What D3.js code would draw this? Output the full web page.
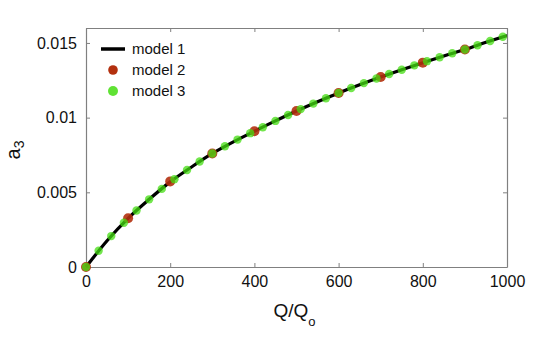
<!DOCTYPE html>
<html><head><meta charset="utf-8">
<script src="https://cdn.jsdelivr.net/npm/d3@7"></script>
<style>body{margin:0;background:#fff}svg{display:block}text{font-family:"Liberation Sans",Arial,Helvetica,sans-serif}</style>
</head><body><svg id="c" width="550" height="339"></svg>
<script>
// model 1 (line)
const m1Q = [0,50,100,150,200,250,300,350,400,450,500,550,600,650,700,750,800,850,900,950,1000];
const m1A = [0,0.00176,0.00326,0.00453,0.00570,0.00668,0.00760,0.00838,0.00909,0.00978,0.01044,0.01106,0.01165,0.01220,0.01272,0.01321,0.01368,0.01413,0.01456,0.01504,0.01550];
// model 2 (red markers)
const m2Q = [0,100,200,300,400,500,600,700,800,900];
const m2A = [0,0.00326,0.00573,0.00760,0.00909,0.01044,0.01165,0.01272,0.01368,0.01456];
// model 3 (green markers)
const m3Q = [0,30,60,90,120,150,180,210,240,270,300,330,360,390,420,450,480,510,540,570,600,630,660,690,720,750,780,810,840,870,900,930,960,990];
const m3A = [0,0.00109,0.00207,0.00296,0.00378,0.00453,0.00523,0.00588,0.00649,0.00706,0.00760,0.00808,0.00853,0.00896,0.00936,0.00978,0.01018,0.01057,0.01094,0.01130,0.01165,0.01198,0.01231,0.01262,0.01292,0.01321,0.01350,0.01378,0.01404,0.01431,0.01456,0.01485,0.01513,0.01541];
const xTicks = [0,200,400,600,800,1000];
const yTicks = [0,0.005,0.01,0.015];
const yTickLabels = ["0","0.005","0.01","0.015"];
const legendLabels = ["model 1","model 2","model 3"];

const svg = d3.select("#c");
const L=86,R=507,T=28,B=267;
const x = d3.scaleLinear().domain([0,1000]).range([L,R]);
const y = d3.scaleLinear().domain([0,0.016]).range([B,T]);
const axisCol="#808080";

function styleAxis(g){
  g.select(".domain").attr("stroke",axisCol).attr("stroke-width",1.2);
  g.selectAll(".tick line").attr("stroke",axisCol).attr("stroke-width",1);
  g.selectAll(".tick text").attr("fill","#111").style("font-size","16px").style("font-family",'"Liberation Sans",Arial,sans-serif');
}
svg.append("g").attr("transform",`translate(0,${B})`)
  .call(d3.axisBottom(x).tickValues(xTicks).tickSizeInner(-4).tickSizeOuter(0).tickPadding(9).tickFormat(d3.format("d")))
  .call(styleAxis);
svg.append("g").attr("transform",`translate(0,${T})`)
  .call(d3.axisTop(x).tickValues(xTicks).tickSizeInner(-4).tickSizeOuter(0).tickFormat(""))
  .call(styleAxis);
svg.append("g").attr("transform",`translate(${L},0)`)
  .call(d3.axisLeft(y).tickValues(yTicks).tickSizeInner(-4).tickSizeOuter(0).tickPadding(9).tickFormat((d,i)=>yTickLabels[i]))
  .call(styleAxis);
svg.append("g").attr("transform",`translate(${R},0)`)
  .call(d3.axisRight(y).tickValues(yTicks).tickSizeInner(-4).tickSizeOuter(0).tickFormat(""))
  .call(styleAxis);

svg.append("clipPath").attr("id","pc").append("rect").attr("x",L-6).attr("y",T).attr("width",R-L+6).attr("height",B-T+6);
const plot = svg.append("g").attr("clip-path","url(#pc)");

const line = d3.line().x((d,i)=>x(m1Q[i])).y((d,i)=>y(m1A[i])).curve(d3.curveMonotoneX);
plot.append("path").datum(m1A).attr("d",line).attr("fill","none").attr("stroke","#000").attr("stroke-width",3.2);

const redCol="#b3300e", greenCol="#44dd11";
plot.selectAll("circle.m2").data(m2A).enter().append("circle").attr("class","m2")
  .attr("cx",(d,i)=>x(m2Q[i])).attr("cy",d=>y(d)).attr("r",5).attr("fill",redCol).attr("fill-opacity",0.9);
plot.selectAll("circle.m3").data(m3A).enter().append("circle").attr("class","m3")
  .attr("cx",(d,i)=>x(m3Q[i])).attr("cy",d=>y(d)).attr("r",4.2).attr("fill",greenCol).attr("fill-opacity",0.75);

// legend
const lg = svg.append("g");
const ly = [49,70,91];
lg.append("line").attr("x1",101).attr("x2",125).attr("y1",ly[0]).attr("y2",ly[0]).attr("stroke","#000").attr("stroke-width",3.5);
lg.append("circle").attr("cx",113).attr("cy",ly[1]).attr("r",4.8).attr("fill",redCol);
lg.append("circle").attr("cx",113).attr("cy",ly[2]).attr("r",5).attr("fill",greenCol).attr("fill-opacity",0.85);
lg.selectAll("text").data(legendLabels).enter().append("text")
  .attr("x",132).attr("y",(d,i)=>ly[i]).attr("dy","0.35em").style("font-size","15px").attr("fill","#111").text(d=>d);

// axis titles
const xt = svg.append("text").attr("x",(L+R)/2-2).attr("y",317).attr("text-anchor","middle").style("font-size","19px").attr("fill","#111");
xt.append("tspan").text("Q/Q");
xt.append("tspan").attr("dy",9).style("font-size","13px").text("o");
const yt = svg.append("text").attr("transform","translate(20,150) rotate(-90)").attr("text-anchor","middle").style("font-size","20px").attr("fill","#111");
yt.append("tspan").text("a");
yt.append("tspan").attr("dy",4).style("font-size","14px").text("3");
</script></body></html>
